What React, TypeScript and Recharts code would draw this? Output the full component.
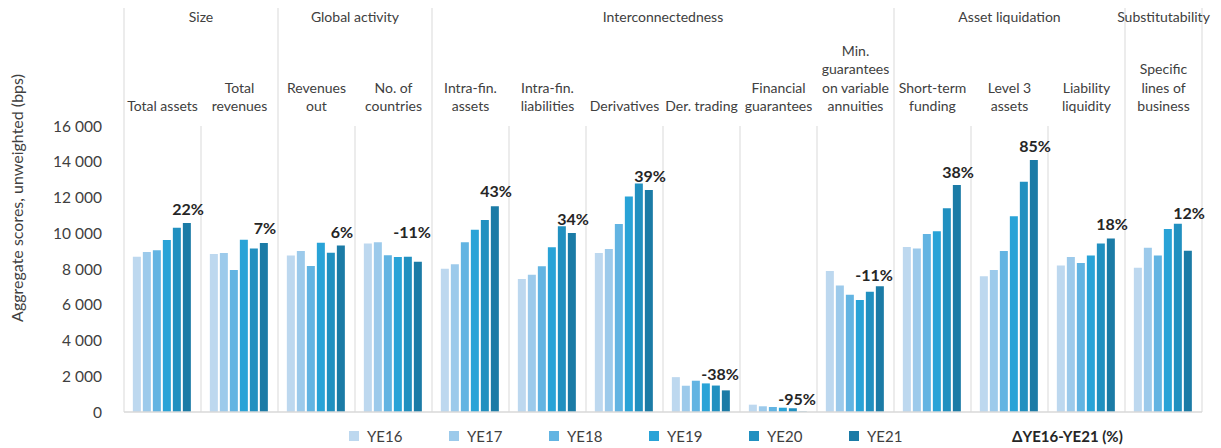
import React from "react";
import { ComposedChart, Bar, Line, XAxis, YAxis, Legend, LabelList, ReferenceLine } from "recharts";

// ---------- data ----------
const categoryLabels: string[][] = [
  ["Total assets"],
  ["Total", "revenues"],
  ["Revenues", "out"],
  ["No. of", "countries"],
  ["Intra-fin.", "assets"],
  ["Intra-fin.", "liabilities"],
  ["Derivatives"],
  ["Der. trading"],
  ["Financial", "guarantees"],
  ["Min.", "guarantees", "on variable", "annuities"],
  ["Short-term", "funding"],
  ["Level 3", "assets"],
  ["Liability", "liquidity"],
  ["Specific", "lines of", "business"],
];

// group title, index of first category, number of categories
const groupNames = ["Size", "Global activity", "Interconnectedness", "Asset liquidation", "Substitutability"];
const groupStarts = [0, 2, 4, 10, 13];
const groupSizes = [2, 2, 6, 3, 1];

const ye16 = [8690, 8840, 8750, 9420, 8020, 7440, 8900, 1950, 410, 7890, 9230, 7590, 8190, 8070];
const ye17 = [8950, 8900, 9010, 9490, 8260, 7680, 9120, 1470, 320, 7070, 9140, 7940, 8670, 9190];
const ye18 = [9050, 7940, 8170, 8770, 9490, 8150, 10520, 1750, 280, 6560, 9960, 9010, 8340, 8750];
const ye19 = [9620, 9640, 9470, 8670, 10200, 9210, 12050, 1600, 240, 6270, 10110, 10950, 8750, 10240];
const ye20 = [10310, 9140, 8910, 8690, 10740, 10390, 12790, 1480, 210, 6730, 11400, 12880, 9420, 10530];
const ye21 = [10570, 9450, 9320, 8410, 11510, 10010, 12420, 1210, 20, 7030, 12700, 14100, 9700, 9020];

// Delta YE16-YE21 labels and the (hidden) value level at which each label sits
const changeLabels = ["22%", "7%", "6%", "-11%", "43%", "34%", "39%", "-38%", "-95%", "-11%", "38%", "85%", "18%", "12%"];
const changeLabelLevel = [11360, 10280, 10090, 10070, 12360, 10810, 13220, 2110, 710, 7660, 13440, 14900, 10500, 11120];

const seriesNames = ["YE16", "YE17", "YE18", "YE19", "YE20", "YE21"];
const seriesValues = [ye16, ye17, ye18, ye19, ye20, ye21];
const seriesColors = ["#bdd8ef", "#9ccaeb", "#62b4e2", "#29a3d7", "#2190c0", "#1b7ba6"];

const yTicks = [0, 2000, 4000, 6000, 8000, 10000, 12000, 14000, 16000];
const deltaLegend = "\u0394YE16-YE21 (%)";
const yAxisTitle = "Aggregate scores, unweighted (bps)";

// ---------- layout ----------
const W = 1221;
const H = 448;
const LEGEND_H = 20;
const PLOT_BOTTOM = 412;
const MARGIN = { top: 26, right: 19, bottom: H - PLOT_BOTTOM - LEGEND_H, left: 0 };
const AXIS_TOP_H = 100;
const GROUP_LINE_TOP = 8;
const BAR_GAP = 2;
const CAT_GAP = 0.115;
const FONT = "Lato, 'Noto Sans', sans-serif";
const TEXT = "#404040";
const GRID = "#d9d9d9";

const rows = categoryLabels.map((lines, i) => {
  const r: Record<string, any> = { key: lines.join(" "), idx: i, labelAt: changeLabelLevel[i] };
  seriesNames.forEach((n, s) => (r[n] = seriesValues[s][i]));
  return r;
});

const fmt = (v: number) => (v >= 1000 ? `${Math.floor(v / 1000)} ${String(v % 1000).padStart(3, "0")}` : String(v));

// band width shared by ticks and labels (set by the tick renderer from the axis)
let bandHalf = 38.5;

function CategoryTick(props: any) {
  const { x, y, payload, index } = props;
  const i = typeof index === "number" ? index : payload.index;
  const half = payload.offset || bandHalf;
  bandHalf = half;
  const lines = categoryLabels[i];
  const lh = 18.5;
  const left = x - half;
  const right = x + half;
  const gi = groupStarts.indexOf(i);
  const isGroupStart = gi >= 0;
  const elems: React.ReactNode[] = [];
  elems.push(
    <line key="l" x1={left} x2={left} y1={isGroupStart ? GROUP_LINE_TOP : y} y2={PLOT_BOTTOM} stroke={GRID} strokeWidth={1} />
  );
  if (i === categoryLabels.length - 1) {
    elems.push(<line key="r" x1={right} x2={right} y1={GROUP_LINE_TOP} y2={PLOT_BOTTOM} stroke={GRID} strokeWidth={1} />);
  }
  if (isGroupStart) {
    const cx = left + half * groupSizes[gi];
    elems.push(
      <text key="g" x={cx} y={22} textAnchor="middle" fontSize={14} fill={TEXT} fontFamily={FONT}>
        {groupNames[gi]}
      </text>
    );
  }
  lines.forEach((ln, k) => {
    elems.push(
      <text key={"t" + k} x={x} y={y - 15 - (lines.length - 1 - k) * lh} textAnchor="middle" fontSize={14} fill={TEXT} fontFamily={FONT}>
        {ln}
      </text>
    );
  });
  return <g>{elems}</g>;
}

function ChangeLabel(props: any) {
  const { x, y, index } = props;
  const txt = changeLabels[index];
  // centre of the last (YE21) bar of the group relative to the category centre
  const band = bandHalf * 2;
  const inner = band * (1 - 2 * CAT_GAP);
  const n = seriesNames.length;
  const barW = (inner - (n - 1) * BAR_GAP) / n;
  const shift = ((n - 1) / 2) * (barW + BAR_GAP);
  const dx = txt.startsWith("-") ? -7 : 0;
  return (
    <text x={x + shift + dx} y={y + 6} textAnchor="middle" fontSize={16} fontWeight={700} fill="#262626" fontFamily={FONT}>
      {txt}
    </text>
  );
}

function LegendContent(props: any) {
  const payload = (props.payload || []).filter((p: any) => seriesNames.includes(p.value));
  return (
    <div style={{ display: "flex", alignItems: "center", fontFamily: FONT, fontSize: 15, color: TEXT, paddingLeft: 349, height: LEGEND_H }}>
      {payload.map((p: any) => (
        <div key={p.value} style={{ display: "flex", alignItems: "center", width: 100 }}>
          <span style={{ display: "inline-block", width: 10, height: 10, background: p.color, marginRight: 8 }} />
          <span>{p.value}</span>
        </div>
      ))}
      <span style={{ marginLeft: 63, fontWeight: 700, color: "#262626" }}>{deltaLegend}</span>
    </div>
  );
}

function YTitle() {
  return (
    <text x={23} y={198} transform="rotate(-90 23 198)" textAnchor="middle" fontSize={16} fill={TEXT} fontFamily={FONT}>
      {yAxisTitle}
    </text>
  );
}

export default function App() {
  return (
    <div style={{ position: "absolute", left: 0, top: 0, width: W, height: H, background: "#fff" }}>
      <ComposedChart width={W} height={H} data={rows} margin={MARGIN} barCategoryGap={`${CAT_GAP * 100}%`} barGap={BAR_GAP}>
        <XAxis
          dataKey="key"
          orientation="top"
          height={AXIS_TOP_H}
          axisLine={false}
          tickLine={false}
          tickSize={0}
          tickMargin={0}
          interval={0}
          tick={<CategoryTick />}
        />
        <YAxis
          width={124}
          domain={[0, 16000]}
          ticks={yTicks}
          interval={0}
          axisLine={false}
          tickLine={false}
          tickSize={0}
          tickMargin={22}
          tickFormatter={fmt}
          tick={{ fontSize: 15.5, fill: TEXT, fontFamily: FONT }}
          label={<YTitle />}
        />
        <ReferenceLine y={0} stroke={GRID} strokeWidth={1.5} />
        {seriesNames.map((n, s) => (
          <Bar key={n} dataKey={n} name={n} fill={seriesColors[s]} isAnimationActive={false} />
        ))}
        <Line
          dataKey="labelAt"
          name="delta"
          stroke="none"
          dot={false}
          activeDot={false}
          legendType="none"
          isAnimationActive={false}
        >
          <LabelList dataKey="labelAt" content={<ChangeLabel />} />
        </Line>
        <Legend
          content={<LegendContent />}
          wrapperStyle={{ position: "absolute", left: 0, top: 426, width: W, height: LEGEND_H }}
        />
      </ComposedChart>
    </div>
  );
}
